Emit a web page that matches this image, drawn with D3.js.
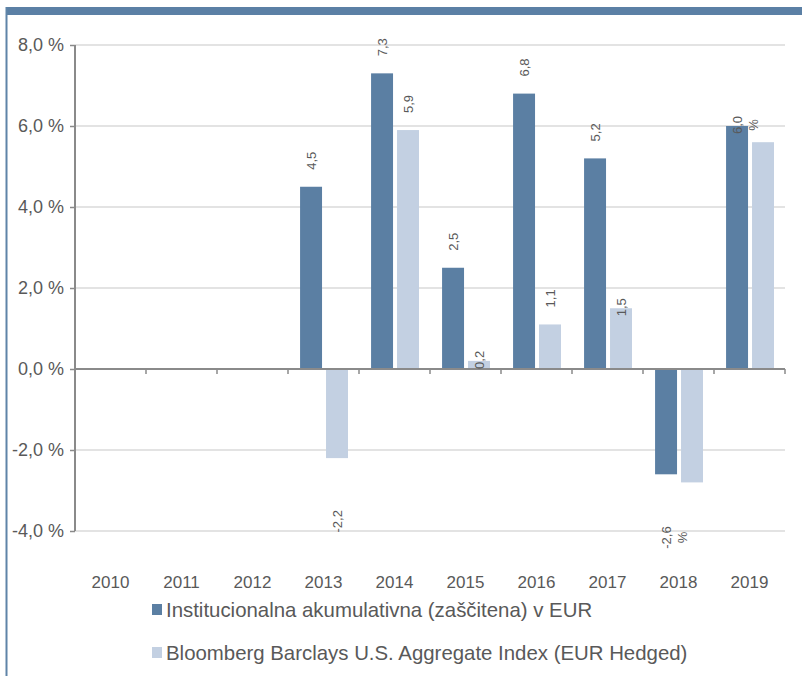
<!DOCTYPE html>
<html>
<head>
<meta charset="utf-8">
<script src="https://cdn.jsdelivr.net/npm/d3@7"></script>
<style>
  html, body { margin: 0; padding: 0; background: #ffffff; }
  svg { display: block; font-family: "Liberation Sans", Arial, sans-serif; }
</style>
</head>
<body>
<svg id="chart" width="802" height="676"></svg>
<script>
// ---- data ----
const years = ["2010", "2011", "2012", "2013", "2014", "2015", "2016", "2017", "2018", "2019"];
const seriesNames = [
  "Institucionalna akumulativna (zaščitena) v EUR",
  "Bloomberg Barclays U.S. Aggregate Index (EUR Hedged)"
];
const fundValues  = [null, null, null, 4.5, 7.3, 2.5, 6.8, 5.2, -2.6, 6.0];
const indexValues = [null, null, null, -2.2, 5.9, 0.2, 1.1, 1.5, -2.8, 5.6];
// label texts as shown on the chart ("" = no label shown)
const fundLabels  = ["", "", "", "4,5", "7,3", "2,5", "6,8", "5,2", "-2,6|%", "6,0|%"];
const indexLabels = ["", "", "", "-2,2", "5,9", "0,2", "1,1", "1,5", "", ""];
// label placement style per point: "out" = outside end, "in" = overlapping the bar end
const fundLabelPos  = ["out", "out", "out", "out", "out", "out", "out", "out", "out", "in"];
const indexLabelPos = ["out", "out", "out", "out", "out", "in", "out", "in", "out", "out"];
const yTicks = [-4, -2, 0, 2, 4, 6, 8];

// ---- styles ----
const colors = ["#5b7fa3", "#c3d0e2"];
const textColor = "#595959";

const svg = d3.select("#chart");

// frame: top band + left border
svg.append("rect").attr("x", 6).attr("y", 7).attr("width", 796).attr("height", 8).attr("fill", "#5b80a5");
svg.append("line").attr("x1", 6.5).attr("x2", 6.5).attr("y1", 7).attr("y2", 676)
  .attr("stroke", "#5f84a8").attr("stroke-width", 2);

const plot = { left: 75, right: 785, top: 45, bottom: 531 };

const x0 = d3.scaleBand().domain(years).range([plot.left, plot.right]).padding(0);
const bw = x0.bandwidth();
const x1 = d3.scaleBand().domain([0, 1]).range([bw * 0.17, bw * 0.845]).paddingInner(0.154);
const y = d3.scaleLinear().domain([-4, 8]).range([plot.bottom, plot.top]);

const fmtTick = v => d3.format(".1f")(v).replace(".", ",").replace("−", "-") + " %";

// gridlines
svg.append("g").selectAll("line").data(yTicks.filter(t => t !== 0)).join("line")
  .attr("x1", plot.left).attr("x2", plot.right)
  .attr("y1", d => y(d)).attr("y2", d => y(d))
  .attr("stroke", "#dadada").attr("stroke-width", 1.5);

// y axis
const yAxis = d3.axisLeft(y).tickValues(yTicks).tickSize(5).tickFormat(fmtTick);
const gy = svg.append("g").attr("transform", `translate(${plot.left},0)`).call(yAxis);
gy.select(".domain").attr("stroke", "#8a8a8a").attr("stroke-width", 2)
  .attr("d", `M0,${plot.top}V${plot.bottom}`);
gy.selectAll(".tick line").attr("stroke", "#8a8a8a").attr("stroke-width", 1.5);
gy.selectAll(".tick text").attr("fill", textColor).attr("font-size", 18)
  .attr("x", -11).attr("font-family", "Liberation Sans, Arial, sans-serif");

// bars
const series = [fundValues, indexValues];
series.forEach((vals, si) => {
  svg.append("g").selectAll("rect")
    .data(years.map((yr, i) => ({ yr, v: vals[i] })).filter(d => d.v !== null))
    .join("rect")
    .attr("x", d => x0(d.yr) + x1(si))
    .attr("width", x1.bandwidth())
    .attr("y", d => y(Math.max(0, d.v)))
    .attr("height", d => Math.abs(y(d.v) - y(0)))
    .attr("fill", colors[si]);
});

// x axis (at zero)
const xAxis = d3.axisBottom(x0).tickSize(0).tickFormat("");
const gx = svg.append("g").attr("transform", `translate(0,${y(0)})`).call(xAxis);
gx.select(".domain").attr("stroke", "#8a8a8a").attr("stroke-width", 2)
  .attr("d", `M${plot.left},0H${plot.right}`);
// category boundary ticks
svg.append("g").selectAll("line").data(years).join("line")
  .attr("x1", d => x0(d) + bw).attr("x2", d => x0(d) + bw)
  .attr("y1", y(0)).attr("y2", y(0) + 5)
  .attr("stroke", "#8a8a8a").attr("stroke-width", 1.5);

// year labels at bottom
svg.append("g").selectAll("text").data(years).join("text")
  .attr("x", d => x0(d) + bw / 2).attr("y", 588)
  .attr("text-anchor", "middle").attr("fill", textColor).attr("font-size", 17)
  .text(d => d);

// data labels (rotated)
const labelsG = svg.append("g");
[[fundValues, fundLabels, fundLabelPos], [indexValues, indexLabels, indexLabelPos]].forEach(([vals, labs, pos], si) => {
  years.forEach((yr, i) => {
    const v = vals[i], lab = labs[i];
    if (v === null || !lab) return;
    const cx = x0(yr) + x1(si) + x1.bandwidth() / 2;
    const lines = lab.split("|");
    const t = labelsG.append("text")
      .attr("fill", textColor).attr("font-size", 13)
      .attr("dominant-baseline", "central");
    const first = t.append("tspan").text(lines[0]);
    const len = first.node().getComputedTextLength();
    let startY; // screen y where the first line begins (bottom end, text reads upward)
    if (v >= 0) {
      startY = pos[i] === "in" ? y(v) + 8 : y(v) - 17;
    } else {
      startY = y(v) + 52 + len;
    }
    const cy = startY - len / 2;
    t.attr("transform", `translate(${cx},${cy}) rotate(-90)`).attr("text-anchor", "middle");
    first.attr("x", 0).attr("y", 0);
    lines.slice(1).forEach((ln, k) => {
      t.append("tspan").attr("x", 0).attr("y", 16 * (k + 1)).text(ln);
    });
  });
});

// legend
const legend = svg.append("g");
seriesNames.forEach((name, i) => {
  const ly = 610 + i * 43;
  legend.append("rect").attr("x", 152).attr("y", ly - 6).attr("width", 10).attr("height", 11)
    .attr("fill", colors[i]);
  legend.append("text").attr("x", 166).attr("y", ly).attr("dominant-baseline", "central")
    .attr("fill", textColor).attr("font-size", 20.4).text(name);
});
</script>
</body>
</html>
